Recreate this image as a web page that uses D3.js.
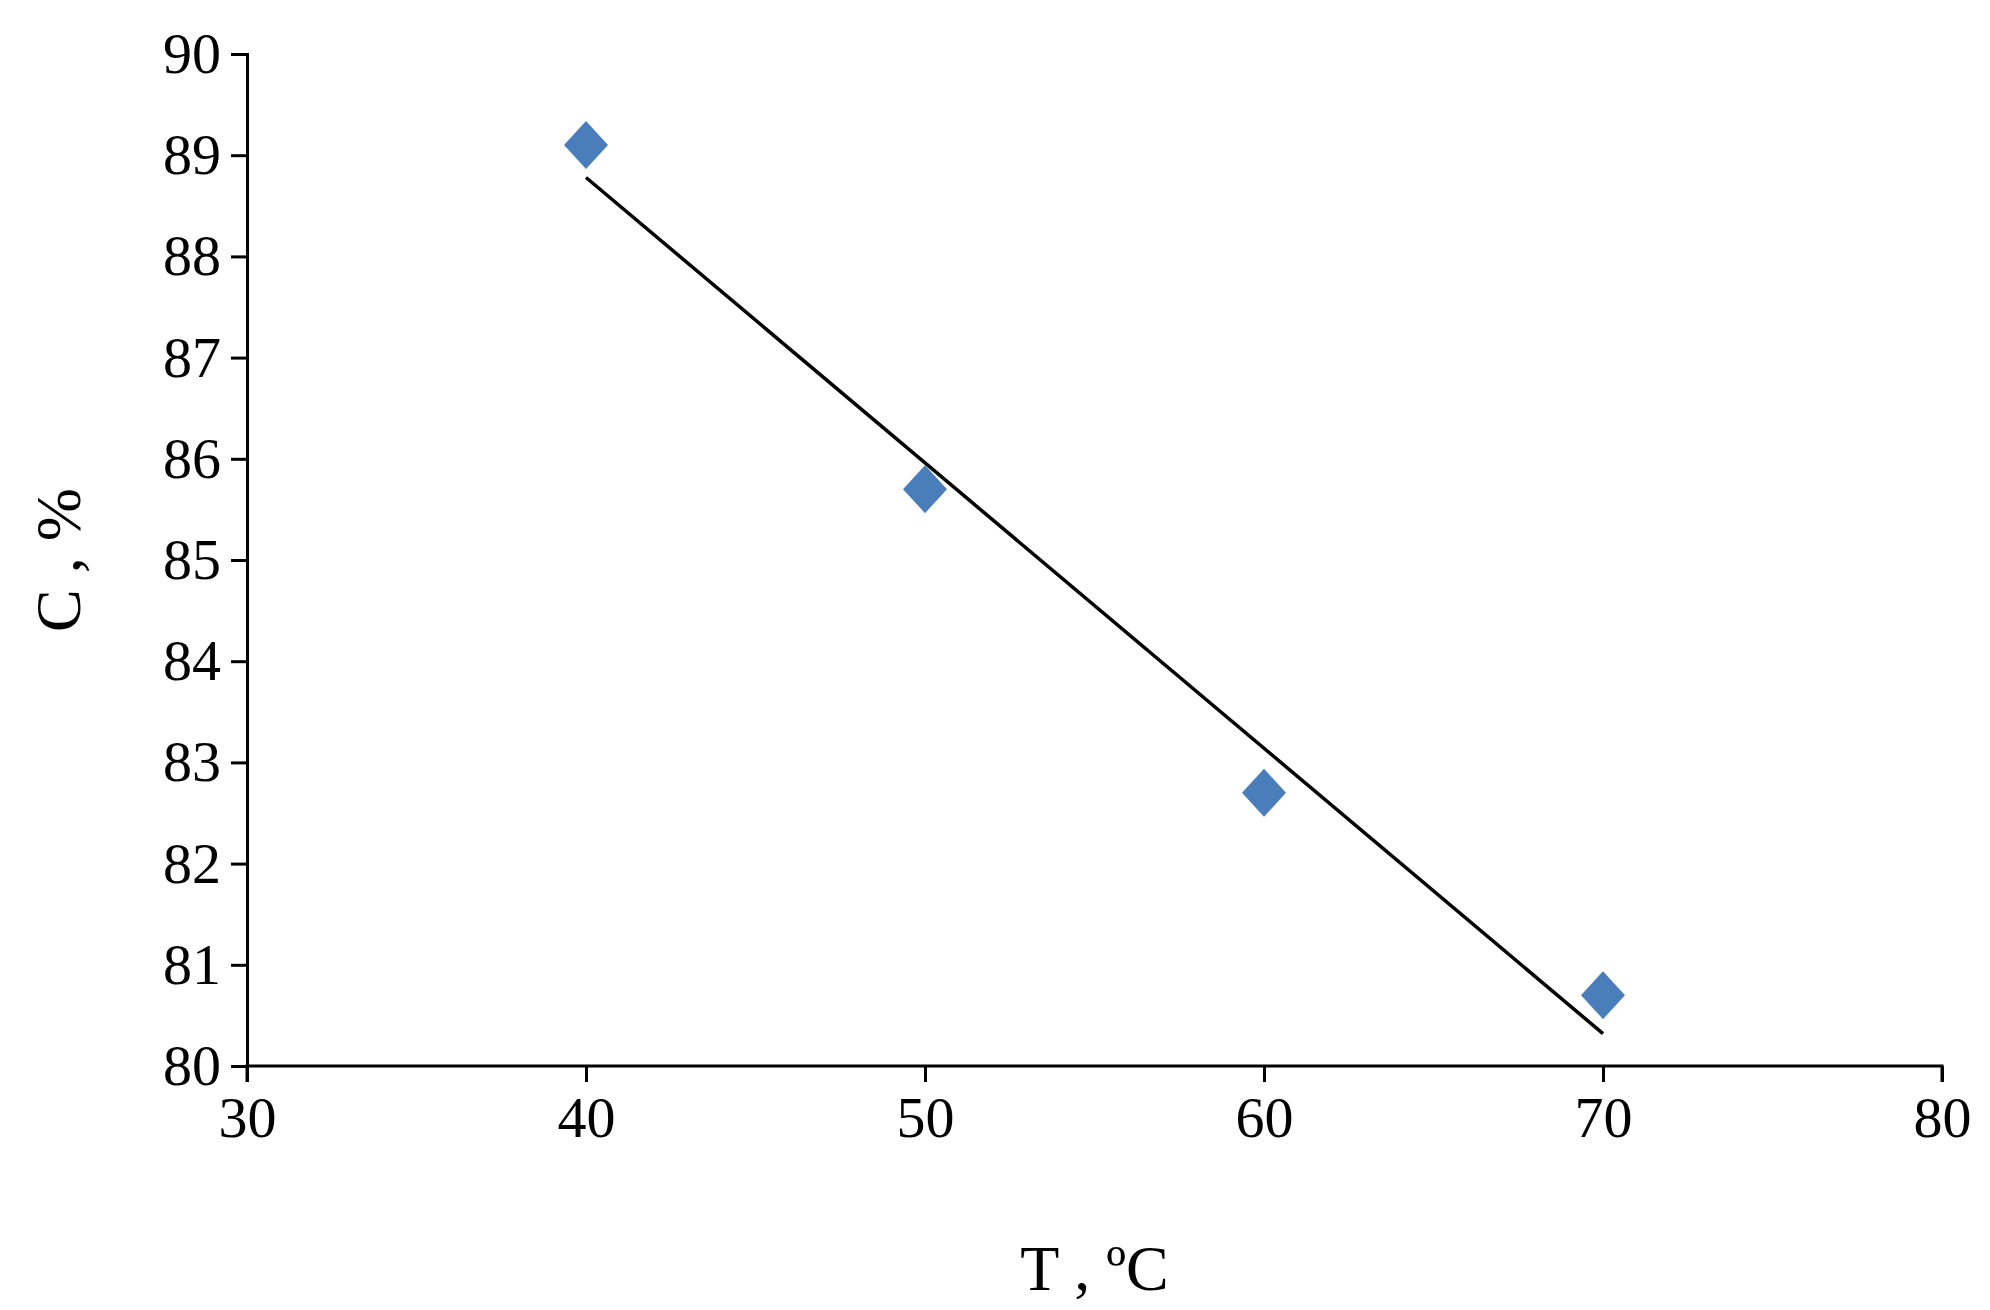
<!DOCTYPE html>
<html><head><meta charset="utf-8">
<script src="https://cdn.jsdelivr.net/npm/d3@7"></script>
<style>body{margin:0;background:#fff}</style>
</head><body><div id="chart"></div>
<script>
"use strict";
const temps = [40, 50, 60, 70];
const conv = [89.1, 85.7, 82.7, 80.7];
const xTicks = [30, 40, 50, 60, 70, 80];
const yTicks = [80, 81, 82, 83, 84, 85, 86, 87, 88, 89, 90];

const W = 1990, H = 1310;
const m = {left: 247, right: 48, top: 54, bottom: 244};
const svg = d3.select("#chart").append("svg").attr("width", W).attr("height", H);
const x = d3.scaleLinear().domain([30, 80]).range([m.left, W - m.right]);
const y = d3.scaleLinear().domain([80, 90]).range([H - m.bottom, m.top]);
const font = "'Liberation Serif', 'Times New Roman', serif";

// axes
const xa = svg.append("g").attr("transform", `translate(0,${y(80)})`)
    .call(d3.axisBottom(x).tickValues(xTicks).tickSize(16).tickPadding(14).tickFormat(d3.format("d")));
const ya = svg.append("g").attr("transform", `translate(${x(30)},0)`)
    .call(d3.axisLeft(y).tickValues(yTicks).tickSize(16).tickPadding(10).tickFormat(d3.format("d")));
[xa, ya].forEach(a => {
    a.selectAll("path,line").attr("stroke", "#000").attr("stroke-width", 3);
    a.selectAll("text").attr("font-family", font).attr("font-size", 58).attr("fill", "#000");
});
xa.select(".domain").attr("d", `M${x(30)},16V0H${x(80)}V16`);

// linear trend line (least squares)
const mx = d3.mean(temps), my = d3.mean(conv);
const slope = d3.sum(temps, (t, i) => (t - mx) * (conv[i] - my)) / d3.sum(temps, t => (t - mx) ** 2);
const fit = t => my + slope * (t - mx);
svg.append("line")
    .attr("x1", x(40)).attr("y1", y(fit(40)))
    .attr("x2", x(70)).attr("y2", y(fit(70)))
    .attr("stroke", "#000").attr("stroke-width", 3.5);

// points
svg.selectAll(".pt").data(temps).join("path").attr("class", "pt")
    .attr("transform", (d, i) => `translate(${x(d)},${y(conv[i])})`)
    .attr("d", "M0,-24L22,0L0,24L-22,0Z")
    .attr("fill", "#4a7ebb");

// titles
svg.append("text").attr("x", x(55)).attr("y", 1290).attr("text-anchor", "middle")
    .attr("font-family", font).attr("font-size", 64).text("T , ºC");
svg.append("text").attr("transform", `translate(80,${y(85)}) rotate(-90)`).attr("text-anchor", "middle")
    .attr("font-family", font).attr("font-size", 64).text("C , %");
</script></body></html>
